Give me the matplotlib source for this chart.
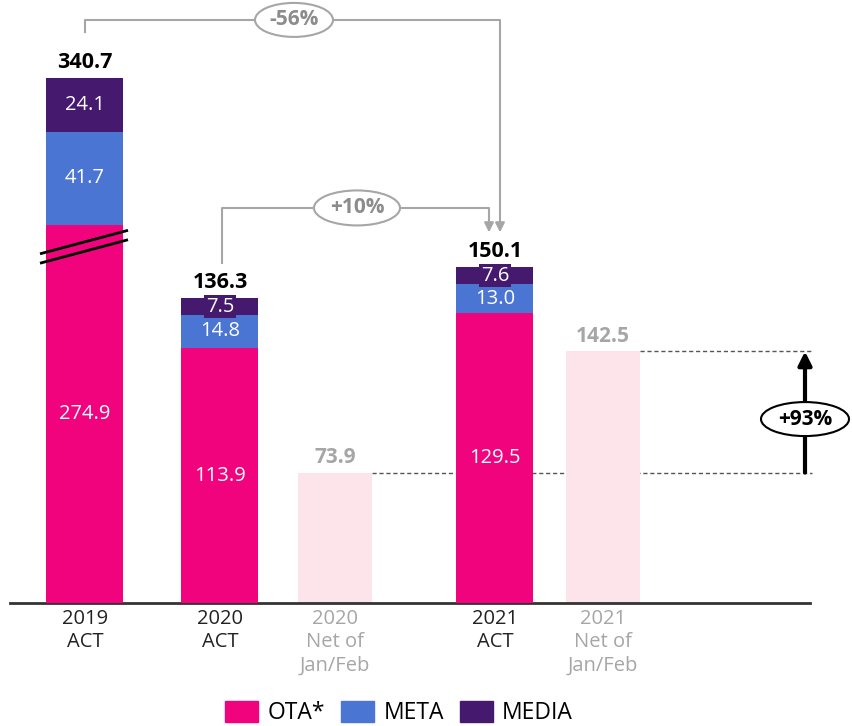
import matplotlib
matplotlib.use("Agg")
import matplotlib.pyplot as plt
from matplotlib.patches import Ellipse, Patch

plt.rcParams['font.family'] = ['Open Sans', 'DejaVu Sans']

# data
act_labels = ["2019\nACT", "2020\nACT", "2021\nACT"]
ota = [274.9, 113.9, 129.5]
meta = [41.7, 14.8, 13.0]
media = [24.1, 7.5, 7.6]
totals = [340.7, 136.3, 150.1]
net_labels = ["2020\nNet of\nJan/Feb", "2021\nNet of\nJan/Feb"]
net_values = [73.9, 142.5]
growth = ["-56%", "+10%", "+93%"]

# the 2019 OTA bar is drawn broken: this much is cut out of it
cut_2019 = 106.0

# layout
act_x = [85, 220, 495]
net_x = [335, 603]
bar_w = 77
c_ota, c_meta, c_media = "#F2037E", "#4A75D3", "#45196E"
c_net = "#FDE4EA"
c_grey = "#A6A6A6"
fs = 14.5

fig = plt.figure(figsize=(8.53, 7.26), dpi=100)
ax = fig.add_axes([10 / 853, 123 / 726, 800 / 853, 603 / 726])
ax.set_xlim(10, 810)
ax.set_ylim(0, 269.4)
px = 603 / 269.4  # pixels per unit on the main scale

# second scale for the "net of Jan/Feb" bars
ax2 = ax.twinx()
ax2.set_ylim(0, 341.6)
ax2.set_zorder(ax.get_zorder() - 1)
ax.patch.set_visible(False)

ota_shown = [v - cut_2019 if i == 0 else v for i, v in enumerate(ota)]
shown_tot = [o + m + d for o, m, d in zip(ota_shown, meta, media)]

ax.bar(act_x, ota_shown, bar_w, color=c_ota, zorder=3)
ax.bar(act_x, meta, bar_w, bottom=ota_shown, color=c_meta, zorder=3)
ax.bar(act_x, media, bar_w, bottom=[o + m for o, m in zip(ota_shown, meta)],
       color=c_media, zorder=3)
ax2.bar(net_x, net_values, 74, color=c_net, zorder=1)

for i, x in enumerate(act_x):
    ax.text(x, ota_shown[i] / 2, f"{ota[i]:.1f}", color="white", ha="center",
            va="center", fontsize=fs, zorder=5)
    ax.text(x, ota_shown[i] + meta[i] / 2, f"{meta[i]:.1f}", color="white",
            ha="center", va="center", fontsize=fs, zorder=5)
    ybox = ota_shown[i] + meta[i] + media[i] / 2
    ax.text(x, ybox, f"{media[i]:.1f}", color="white", ha="center", va="center",
            fontsize=fs, zorder=5,
            bbox=dict(boxstyle="square,pad=0.08", fc=c_media, ec="none")
            if media[i] < 10 else None)
    ax.text(x, shown_tot[i] + 2.3, f"{totals[i]:.1f}", ha="center", va="bottom",
            fontsize=15.5, fontweight="bold", color="black", zorder=5)

for x, v in zip(net_x, net_values):
    ax2.text(x, v + 2.3, f"{v:.1f}", ha="center", va="bottom", fontsize=15,
             fontweight="bold", color=c_grey)

# break marks on 2019 bar
for off in (0, -4.2):
    ax.plot([act_x[0] - 45, act_x[0] + 43], [156 + off, 166.5 + off],
            color="black", lw=2, zorder=6, solid_capstyle="butt")

arrow_grey = dict(arrowstyle="-|>", color=c_grey, lw=1.5, mutation_scale=14,
                  shrinkA=0, shrinkB=0)

# bracket -56% : 2019 -> 2021
y1 = 260.5
ax.plot([act_x[0], act_x[0], act_x[2] + 5, act_x[2] + 5],
        [shown_tot[0] + 20.5, y1, y1, 170], color=c_grey, lw=1.5, zorder=2)
ax.annotate("", xy=(act_x[2] + 5, totals[2] + 15.5), xytext=(act_x[2] + 5, 171),
            arrowprops=arrow_grey)
ax.add_patch(Ellipse((294, y1), 78, 34 / px, fc="white", ec=c_grey, lw=1.5, zorder=4))
ax.text(294, y1, growth[0], ha="center", va="center", fontsize=15,
        fontweight="bold", color="#8C8C8C", zorder=5)

# bracket +10% : 2020 -> 2021
y2 = 176.5
ax.plot([act_x[1] + 2, act_x[1] + 2, act_x[2] - 6, act_x[2] - 6],
        [totals[1] + 15.6, y2, y2, 170], color=c_grey, lw=1.5, zorder=2)
ax.annotate("", xy=(act_x[2] - 6, totals[2] + 15.5), xytext=(act_x[2] - 6, 171),
            arrowprops=arrow_grey)
ax.add_patch(Ellipse((357, y2), 86, 35 / px, fc="white", ec=c_grey, lw=1.5, zorder=4))
ax.text(357, y2, growth[1], ha="center", va="center", fontsize=15,
        fontweight="bold", color="#8C8C8C", zorder=5)

# +93% : net 2020 -> net 2021
for v, x0 in zip(net_values, net_x):
    ax2.plot([x0 + 37, 812], [v, v], ls=(0, (3, 2)), color="#555555",
             lw=1, zorder=0, clip_on=False)
ax2.annotate("", xy=(805, net_values[1]), xytext=(805, net_values[0]),
             arrowprops=dict(arrowstyle="-|>", color="black", lw=3,
                             mutation_scale=20, shrinkA=0, shrinkB=0),
             annotation_clip=False, zorder=6)
y3 = 104.2
ax2.add_patch(Ellipse((805, y3), 88, 34 / (603 / 341.6), fc="white", ec="black",
                      lw=1.5, zorder=7, clip_on=False))
ax2.text(805, y3, growth[2], ha="center", va="center", fontsize=15,
         fontweight="bold", color="black", zorder=8, clip_on=False)

# axes styling
for a in (ax, ax2):
    for s in ("top", "right", "left"):
        a.spines[s].set_visible(False)
    a.set_yticks([])
ax2.spines["bottom"].set_visible(False)
ax.spines["bottom"].set_linewidth(2)
ax.spines["bottom"].set_color("#333333")

ticks = [act_x[0], act_x[1], net_x[0], act_x[2], net_x[1]]
labels = [act_labels[0], act_labels[1], net_labels[0], act_labels[2], net_labels[1]]
ax.set_xticks(ticks, labels, fontsize=fs, linespacing=1.25)
ax.tick_params(axis="x", length=0, pad=4)
for lbl, c in zip(ax.get_xticklabels(), ["#222222", "#222222", c_grey, "#222222", c_grey]):
    lbl.set_color(c)

handles = [Patch(color=c_ota, label="OTA*"), Patch(color=c_meta, label="META"),
           Patch(color=c_media, label="MEDIA")]
fig.legend(handles=handles, loc="center", bbox_to_anchor=(399 / 853, 1 - 713 / 726),
           ncol=3, frameon=False, fontsize=16.5, handlelength=1.45, handleheight=1.05,
           columnspacing=0.7, handletextpad=0.4, borderpad=0)

fig.savefig("out.png", dpi=100)
